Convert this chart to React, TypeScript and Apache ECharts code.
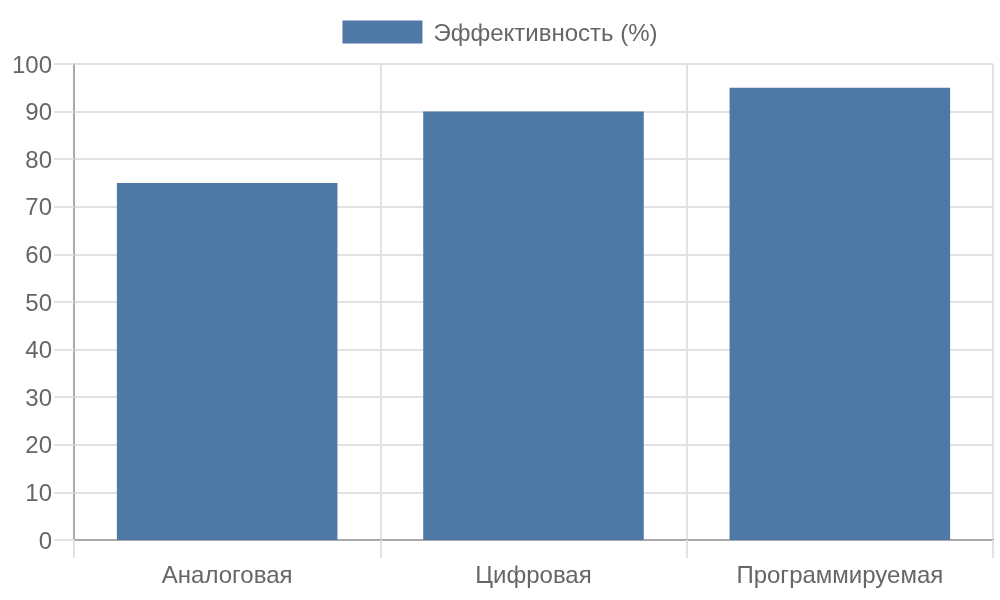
import { useEffect, useRef } from "react";
import * as echarts from "echarts";

const categories = ["Аналоговая", "Цифровая", "Программируемая"];
const efficiency = [75, 90, 95];
const seriesName = "Эффективность (%)";

const FONT = "'Liberation Sans', Arial, sans-serif";

export default function App() {
  const chartRef = useRef<HTMLDivElement>(null);

  useEffect(() => {
    if (!chartRef.current) return;
    const chart = echarts.init(chartRef.current, undefined, { renderer: "svg" });

    chart.setOption({
      animation: false,
      textStyle: { fontFamily: FONT },
      legend: {
        data: [seriesName],
        top: 20,
        left: "center",
        padding: 0,
        itemWidth: 80,
        itemHeight: 23,
        icon: "rect",
        textStyle: {
          fontSize: 24,
          color: "#666",
          fontFamily: FONT,
          padding: [0, 0, 0, 6],
        },
      },
      grid: {
        left: 74,
        right: 7,
        top: 64,
        bottom: 60,
        containLabel: false,
      },
      xAxis: {
        type: "category",
        data: categories,
        boundaryGap: true,
        axisLine: { lineStyle: { color: "#aaa", width: 2 } },
        axisTick: {
          show: true,
          alignWithLabel: false,
          length: 18,
          lineStyle: { color: "#e2e2e2", width: 2 },
        },
        splitLine: { show: true, lineStyle: { color: "#e2e2e2", width: 2 } },
        axisLabel: {
          fontSize: 24,
          color: "#666",
          fontFamily: FONT,
          margin: 22,
        },
      },
      yAxis: {
        type: "value",
        min: 0,
        max: 100,
        interval: 10,
        axisLine: { show: true, lineStyle: { color: "#aaa", width: 2 } },
        axisTick: {
          show: true,
          length: 20,
          lineStyle: { color: "#e2e2e2", width: 2 },
        },
        splitLine: { show: true, lineStyle: { color: "#e2e2e2", width: 2 } },
        axisLabel: {
          fontSize: 24,
          color: "#666",
          fontFamily: FONT,
          margin: 22,
        },
      },
      series: [
        {
          name: seriesName,
          type: "bar",
          data: efficiency,
          barWidth: "72%",
          itemStyle: { color: "#4E79A7" },
        },
      ],
    });

    return () => {
      chart.dispose();
    };
  }, []);

  return (
    <div
      ref={chartRef}
      style={{ position: "fixed", left: 0, top: 0, width: 1000, height: 600 }}
    />
  );
}
